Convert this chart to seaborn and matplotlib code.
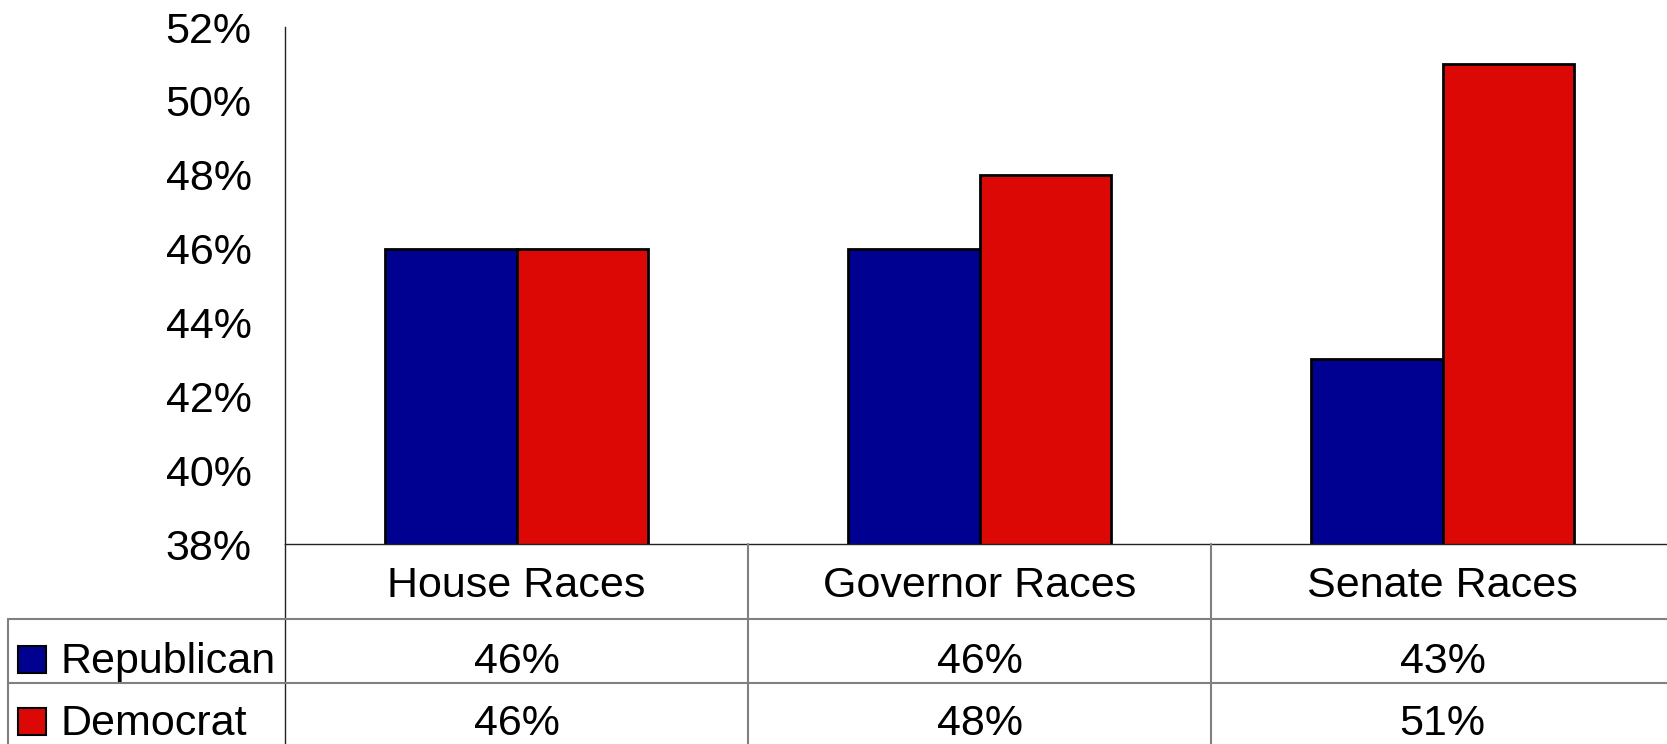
import matplotlib
matplotlib.use("Agg")
import matplotlib.pyplot as plt
import matplotlib.transforms as mtransforms
from matplotlib.lines import Line2D
from matplotlib.patches import Rectangle
import pandas as pd
import seaborn as sns

# Vote share by race type and party
races = ["House Races", "Governor Races", "Senate Races"]
parties = ["Republican", "Democrat"]
republican = [46, 46, 43]
democrat = [46, 48, 51]
party_colors = ["#000091", "#DC0806"]
y_ticks = [38, 40, 42, 44, 46, 48, 50, 52]

W, H = 1667, 744
sns.set_theme(style="white")
plt.rcParams["font.family"] = ["Liberation Sans", "DejaVu Sans"]

fig = plt.figure(figsize=(W / 100, H / 100), dpi=100)


def fx(px):
    return px / W


def fy(py):
    return 1 - py / H


ax_left, ax_right, ax_top, ax_bottom = 285, 1674, 27, 544
ax = fig.add_axes([fx(ax_left), fy(ax_bottom),
                   (ax_right - ax_left) / W, (ax_bottom - ax_top) / H])

df = pd.DataFrame({
    "race": races * 2,
    "party": [parties[0]] * len(races) + [parties[1]] * len(races),
    "share": republican + democrat,
})
sns.barplot(data=df, x="race", y="share", hue="party", order=races,
            hue_order=parties, palette=party_colors, saturation=1,
            width=0.57, edgecolor="black", linewidth=2,
            legend=False, ax=ax)

ax.set_ylim(38, 52)
ax.set_xlim(-0.5, len(races) - 0.5)
ax.set_yticks(y_ticks)
ax.set_yticklabels([f"{v}%" for v in y_ticks])
ax.set_xticks([])
ax.set_xlabel("")
ax.set_ylabel("")
ax.tick_params(axis="y", direction="in", length=9.5, width=1,
               color="#333333", pad=24, labelsize=31, labelcolor="black")
for side in ("top", "right"):
    ax.spines[side].set_visible(False)
for side in ("left", "bottom"):
    ax.spines[side].set_color("#222222")
    ax.spines[side].set_linewidth(1)

# Data table beneath the chart
trans = mtransforms.blended_transform_factory(ax.transData, fig.transFigure)
grid_color = "#808080"

fig.add_artist(Line2D([fx(285), fx(285)], [fy(544), 0], color="#222222", lw=1))
fig.add_artist(Line2D([fx(8), fx(8)], [fy(619), 0], color=grid_color, lw=1.5))
for yrow in (619, 683):
    fig.add_artist(Line2D([fx(8), 1], [fy(yrow), fy(yrow)], color=grid_color, lw=1.5))
for xb in [i + 0.5 for i in range(len(races) - 1)]:
    fig.add_artist(Line2D([xb, xb], [fy(544), 0], color=grid_color, lw=1.5,
                          transform=trans))

font_size = 31
for i, race in enumerate(races):
    fig.text(i, fy(597), race, transform=trans, ha="center", va="baseline",
             fontsize=font_size, color="black")

row_baselines = [673, 735]
for series, name, color, base in zip([republican, democrat], parties,
                                     party_colors, row_baselines):
    fig.add_artist(Rectangle((fx(18), fy(base)), 28 / W, 27 / H,
                             facecolor=color, edgecolor="black", lw=1.5,
                             transform=fig.transFigure))
    fig.text(fx(60), fy(base), name, ha="left", va="baseline",
             fontsize=font_size, color="black")
    for i, v in enumerate(series):
        fig.text(i, fy(base), f"{v}%", transform=trans, ha="center",
                 va="baseline", fontsize=font_size, color="black")

fig.savefig("out.png", dpi=100, facecolor="white")
